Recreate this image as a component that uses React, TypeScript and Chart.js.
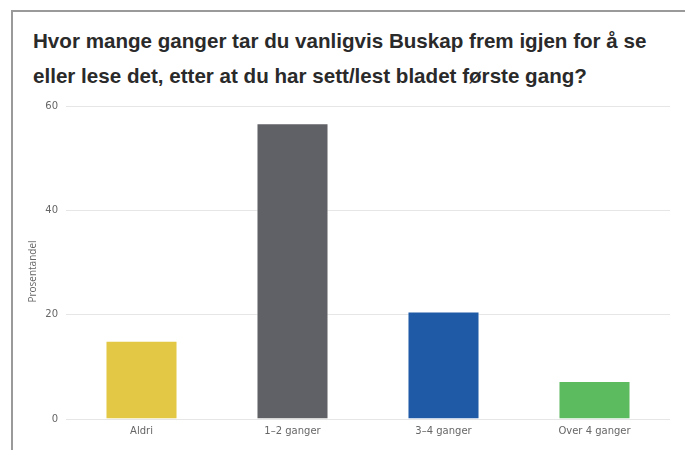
import React, { useEffect, useRef } from "react";
import { Chart, registerables } from "chart.js";

Chart.register(...registerables);

const titleLines = [
  "Hvor mange ganger tar du vanligvis Buskap frem igjen for å se",
  "eller lese det, etter at du har sett/lest bladet første gang?",
];
const categories = ["Aldri", "1–2 ganger", "3–4 ganger", "Over 4 ganger"];
const values = [15, 56.7, 20.6, 7.3];
const barColors = ["#E2C845", "#606166", "#1E5AA6", "#5CBA5F"];
const yTicks = [0, 20, 40, 60];
const yAxisTitle = "Prosentandel";

const yTitlePlugin = {
  id: "yTitleCustom",
  afterDraw(chart: any) {
    const { ctx, chartArea } = chart;
    ctx.save();
    ctx.translate(33, (chartArea.top + chartArea.bottom) / 2 + 9);
    ctx.rotate(-Math.PI / 2);
    ctx.font = "10px 'Open Sans'";
    ctx.fillStyle = "#666666";
    ctx.textAlign = "center";
    ctx.textBaseline = "middle";
    ctx.fillText(yAxisTitle, 0, 0);
    ctx.restore();
  },
};

export default function App() {
  const canvasRef = useRef<HTMLCanvasElement | null>(null);

  useEffect(() => {
    if (!canvasRef.current) return;
    const chart = new Chart(canvasRef.current, {
      type: "bar",
      data: {
        labels: categories,
        datasets: [
          {
            data: values,
            backgroundColor: barColors,
            borderColor: "rgba(255,255,255,0.6)",
            borderWidth: 1,
            categoryPercentage: 1,
            barPercentage: 0.477,
          },
        ],
      },
      plugins: [yTitlePlugin],
      options: {
        animation: false,
        responsive: false,
        maintainAspectRatio: false,
        layout: { padding: { left: 27, right: 15, top: 106, bottom: 13 } },
        plugins: {
          legend: { display: false },
          tooltip: { enabled: false },
          title: { display: false },
        },
        scales: {
          x: {
            grid: { display: false, drawTicks: false, tickLength: 0 },
            border: { display: false },
            afterFit: (scale: any) => {
              scale.height = 18;
            },
            ticks: {
              color: "#666666",
              padding: 6,
              font: { family: "DejaVu Sans", size: 10 },
              maxRotation: 0,
            },
          },
          y: {
            min: 0,
            max: 60,
            afterBuildTicks: (scale: any) => {
              scale.ticks = yTicks.map((v) => ({ value: v }));
            },
            afterFit: (scale: any) => {
              scale.width = 39;
            },
            grid: { color: "#e6e6e6", lineWidth: 1, drawTicks: false },
            border: { display: false },
            ticks: {
              color: "#666666",
              padding: 8,
              font: { family: "DejaVu Sans", size: 10 },
            },
            title: { display: false },
          },
        },
      },
    });
    return () => chart.destroy();
  }, []);

  return (
    <div
      style={{
        position: "absolute",
        left: 0,
        top: 0,
        width: 685,
        height: 450,
        overflow: "hidden",
        background: "#ffffff",
      }}
    >
      <div
        style={{
          position: "absolute",
          left: 11,
          top: 10,
          width: 720,
          height: 500,
          borderTop: "2px solid #9a9a9a",
          borderLeft: "2px solid #9a9a9a",
          boxSizing: "border-box",
        }}
      />
      <div
        style={{
          position: "absolute",
          left: 33,
          top: 23,
          fontFamily: "'Liberation Sans', Arial, sans-serif",
          fontWeight: 700,
          fontSize: 20.6,
          lineHeight: "35px",
          color: "#2a2a2a",
          whiteSpace: "nowrap",
        }}
      >
        {titleLines.map((l, i) => (
          <div key={i}>{l}</div>
        ))}
      </div>
      <canvas
        ref={canvasRef}
        width={685}
        height={450}
        style={{ position: "absolute", left: 0, top: 0, width: 685, height: 450 }}
      />
    </div>
  );
}
